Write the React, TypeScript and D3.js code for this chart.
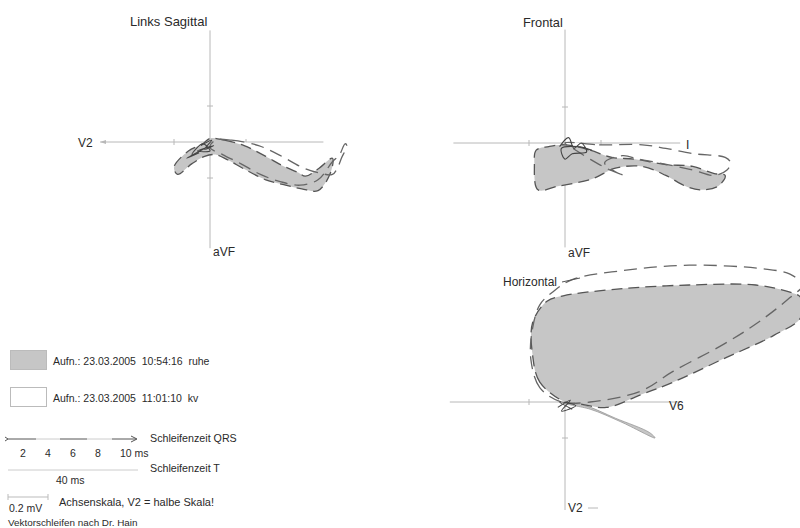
import React from "react";
import * as d3 from "d3";

// loop points in mV (x right, y down)
const sagRuhe: [number, number][] = [
  [0, -0.02], [0.08, -0.01], [0.19, 0.02], [0.31, 0.08], [0.4, 0.13], [0.49, 0.17],
  [0.53, 0.19], [0.6, 0.15], [0.68, 0.09], [0.67, 0.17], [0.6, 0.27], [0.51, 0.26],
  [0.42, 0.24], [0.31, 0.21], [0.19, 0.15], [0.1, 0.1], [0.03, 0.07], [-0.03, 0.08],
  [-0.1, 0.12], [-0.18, 0.18], [-0.2, 0.14], [-0.12, 0.05], [-0.04, 0.01],
];
const sagKv: [number, number][] = [
  [0.03, -0.01], [0.12, -0.01], [0.27, 0.02], [0.4, 0.08], [0.51, 0.14], [0.6, 0.17],
  [0.68, 0.18], [0.71, 0.14], [0.73, 0.09], [0.76, 0.02], [0.75, 0.01], [0.72, 0.07],
  [0.68, 0.11], [0.6, 0.21], [0.5, 0.24], [0.39, 0.22], [0.28, 0.18], [0.17, 0.12],
  [0.07, 0.07], [0, 0.03],
];
const sagNoise: [number, number][] = [
  [-0.05, 0.02], [0.01, -0.01], [-0.03, 0.04], [0.02, 0.02], [-0.07, 0.05], [0, 0.05],
  [-0.04, 0.01], [-0.1, 0.07], [-0.02, 0.03], [-0.13, 0.09], [-0.06, 0.06],
];
const frontRuhe: [number, number][] = [
  [0, 0.01], [0.14, 0.04], [0.26, 0.08], [0.39, 0.09], [0.56, 0.12], [0.71, 0.13],
  [0.83, 0.17], [0.89, 0.18], [0.85, 0.24], [0.75, 0.26], [0.67, 0.24], [0.56, 0.18],
  [0.43, 0.13], [0.28, 0.14], [0.15, 0.2], [-0.04, 0.24], [-0.15, 0.26], [-0.17, 0.12],
  [-0.16, 0.04], [-0.09, 0.02],
];
const frontKv: [number, number][] = [
  [0, 0], [0.19, 0.01], [0.43, 0.01], [0.56, 0.03], [0.72, 0.06], [0.89, 0.08],
  [0.92, 0.11], [0.9, 0.15], [0.83, 0.18], [0.71, 0.15], [0.52, 0.11], [0.41, 0.09],
  [0.32, 0.07], [0.22, 0.11], [0.28, 0.16], [0.33, 0.18], [0.25, 0.15], [0.14, 0.09],
  [0.06, 0.04],
];
const frontNoise: [number, number][] = [
  [-0.03, 0.02], [0.02, -0.03], [0.05, 0.03], [0.09, 0.0], [0.12, 0.05], [0.04, 0.06],
  [0, 0.09], [-0.02, 0.03], [0.07, 0.02], [0.15, 0.04],
];
const horRuhe: [number, number][] = [
  [0, 0], [-0.14, -0.11], [-0.18, -0.26], [-0.18, -0.44], [-0.1, -0.56], [-0.01, -0.59],
  [0.32, -0.63], [0.69, -0.65], [1.06, -0.65], [1.25, -0.61], [1.31, -0.58], [1.31, -0.47],
  [1.16, -0.37], [0.88, -0.24], [0.6, -0.11], [0.42, -0.04], [0.23, 0.03], [0.08, 0.01],
];
const horKv: [number, number][] = [
  [-0.02, 0], [-0.14, -0.08], [-0.19, -0.24], [-0.18, -0.41], [-0.14, -0.54], [-0.07, -0.61],
  [0.04, -0.68], [0.32, -0.73], [0.69, -0.76], [1.1, -0.74], [1.25, -0.71], [1.32, -0.65],
  [1.25, -0.58], [1.07, -0.44], [0.88, -0.32], [0.6, -0.17], [0.42, -0.06], [0.14, 0],
];
const horTail: [number, number][] = [
  [0, 0.01], [0.14, 0.04], [0.31, 0.11], [0.5, 0.2], [0.47, 0.17], [0.28, 0.09], [0.11, 0.02],
];
const horNoise: [number, number][] = [
  [-0.04, 0.03], [0.03, -0.01], [-0.02, 0.05], [0.06, 0.02], [-0.03, 0.0], [0.04, 0.04],
];

const axisTicks = [-0.2, 0.2];
const qrsTicks = ["2", "4", "6", "8", "10 ms"];
const legendRows = [
  { label: "Aufn.: 23.03.2005  10:54:16  ruhe", fill: "#c6c6c6" },
  { label: "Aufn.: 23.03.2005  11:01:10  kv", fill: "#fff" },
];

const K = 180; // px per mV
const FONT = "'Liberation Sans', Arial, sans-serif";
const GRAY = "#c6c6c6";
const AXIS = "#b8b8b8";

type Pt = [number, number];
type Panel = {
  cx: number;
  cy: number;
  xExt: Pt;
  yExt: Pt;
  ruhe: Pt[];
  kv: Pt[];
  noise: Pt[];
  extra?: Pt[];
};

function Loops({ cx, cy, xExt, yExt, ruhe, kv, noise, extra }: Panel) {
  const x = d3.scaleLinear().domain([0, 1]).range([cx, cx + K]);
  const y = d3.scaleLinear().domain([0, 1]).range([cy, cy + K]);
  const line = d3
    .line<Pt>()
    .x((d) => x(d[0]))
    .y((d) => y(d[1]))
    .curve(d3.curveCatmullRomClosed.alpha(0.5));
  const scribble = d3
    .line<Pt>()
    .x((d) => x(d[0]))
    .y((d) => y(d[1]))
    .curve(d3.curveCatmullRom);
  return (
    <g>
      <line x1={x(xExt[0])} x2={x(xExt[1])} y1={y(0)} y2={y(0)} stroke={AXIS} strokeWidth={1} />
      <line x1={x(0)} x2={x(0)} y1={y(yExt[0])} y2={y(yExt[1])} stroke={AXIS} strokeWidth={1} />
      {axisTicks.map((t) => (
        <g key={t} stroke={AXIS}>
          <line x1={x(t)} x2={x(t)} y1={y(0) - 3} y2={y(0) + 3} />
          <line x1={x(0) - 3} x2={x(0) + 3} y1={y(t)} y2={y(t)} />
        </g>
      ))}
      <path d={line(kv) ?? ""} fill="#fff" />
      <path d={line(ruhe) ?? ""} fill={GRAY} />
      {extra && <path d={line(extra) ?? ""} fill={GRAY} stroke="#999" strokeWidth={0.8} />}
      <path d={line(ruhe) ?? ""} fill="none" stroke="#555" strokeWidth={1.3} strokeDasharray="11 6" />
      <path d={line(kv) ?? ""} fill="none" stroke="#666" strokeWidth={1.3} strokeDasharray="13 7" />
      <path d={scribble(noise) ?? ""} fill="none" stroke="#444" strokeWidth={1.1} />
    </g>
  );
}

export default function App() {
  const txt = { fontFamily: FONT, fill: "#2a2a2a", style: { whiteSpace: "pre" as const } };
  return (
    <svg width={800} height={528} style={{ position: "absolute", left: 0, top: 0, background: "#fff" }}>
      <rect width={800} height={528} fill="#fff" />
      {/* Links Sagittal */}
      <text x={130} y={26} fontSize={13} {...txt}>Links Sagittal</text>
      <Loops cx={210} cy={142} xExt={[-0.61, 0.63]} yExt={[-0.62, 0.59]} ruhe={sagRuhe} kv={sagKv} noise={sagNoise} />
      <path d="M100,142 l6,-2 l0,4 z" fill={AXIS} />
      <text x={78} y={147} fontSize={12} {...txt}>V2</text>
      <text x={213} y={256} fontSize={12} {...txt}>aVF</text>

      {/* Frontal */}
      <text x={523} y={27} fontSize={12.8} {...txt}>Frontal</text>
      <Loops cx={565} cy={143} xExt={[-0.62, 0.64]} yExt={[-0.63, 0.58]} ruhe={frontRuhe} kv={frontKv} noise={frontNoise} />
      <text x={686} y={149} fontSize={12} {...txt}>I</text>
      <text x={568} y={257} fontSize={12} {...txt}>aVF</text>

      {/* Horizontal */}
      <Loops cx={565} cy={402} xExt={[-0.64, 0.64]} yExt={[-0.62, 0.6]} ruhe={horRuhe} kv={horKv} noise={horNoise} extra={horTail} />
      <text x={503} y={286} fontSize={12} {...txt}>Horizontal</text>
      <line x1={562} y1={282} x2={580} y2={278} stroke="#555" strokeWidth={1} />
      <text x={669} y={410} fontSize={12} {...txt}>V6</text>
      <text x={568} y={512} fontSize={12} {...txt}>V2</text>
      <line x1={588} y1={508} x2={598} y2={508} stroke={AXIS} />

      {/* legend */}
      {legendRows.map((r, i) => (
        <g key={r.label}>
          <rect x={10.5} y={350.5 + i * 37} width={36} height={19} fill={r.fill} stroke="#bbb" />
          <text x={53} y={365 + i * 37} fontSize={10.5} {...txt}>{r.label}</text>
        </g>
      ))}
      <g stroke="#555" strokeWidth={1}>
        <path d="M5,437 l3,2 l-3,2" fill="none" />
        <line x1={8} x2={36} y1={439} y2={439} />
        <line x1={36} x2={60} y1={439} y2={439} stroke="#ccc" />
        <line x1={60} x2={87} y1={439} y2={439} />
        <line x1={87} x2={112} y1={439} y2={439} stroke="#ccc" />
        <line x1={112} x2={136} y1={439} y2={439} />
        <path d="M131,436 l6,3 l-6,3" fill="none" />
      </g>
      {qrsTicks.map((t, i) => (
        <text key={t} x={20 + i * 25} y={457} fontSize={10.5} {...txt}>{t}</text>
      ))}
      <text x={150} y={442} fontSize={10.7} {...txt}>Schleifenzeit QRS</text>
      <line x1={8} x2={138} y1={470} y2={470} stroke="#ccc" />
      <text x={150} y={472} fontSize={10.7} {...txt}>Schleifenzeit T</text>
      <text x={56} y={484} fontSize={10.5} {...txt}>40 ms</text>
      <g stroke="#bbb">
        <line x1={8} x2={48} y1={497} y2={497} />
        <line x1={8} x2={8} y1={494} y2={500} />
        <line x1={48} x2={48} y1={494} y2={500} />
      </g>
      <text x={9} y={512} fontSize={10.5} {...txt}>0.2 mV</text>
      <text x={59} y={506} fontSize={11} {...txt}>Achsenskala, V2 = halbe Skala!</text>
      <text x={8} y={526} fontSize={9.9} {...txt}>Vektorschleifen nach Dr. Hain</text>
    </svg>
  );
}
